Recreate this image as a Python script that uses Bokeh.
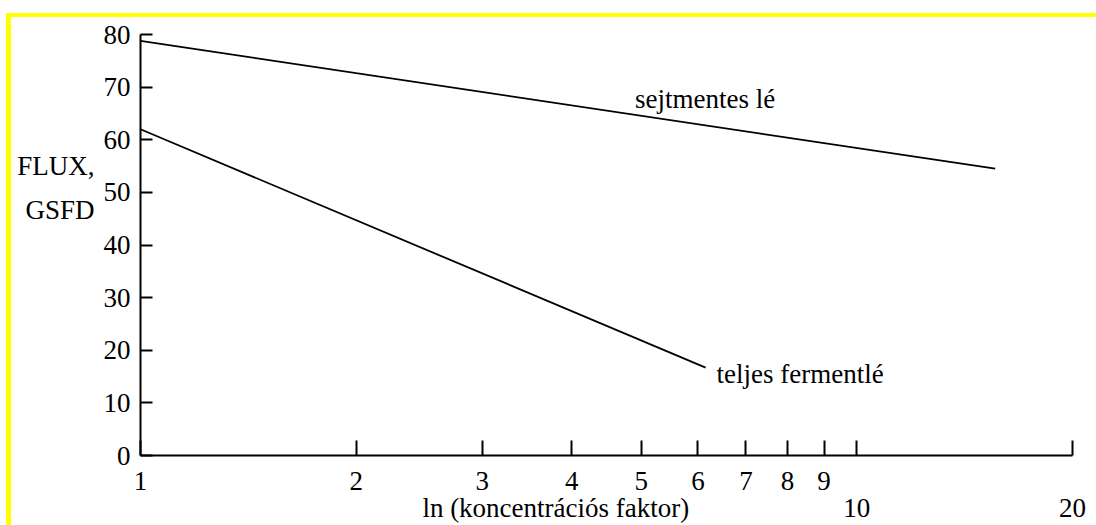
from bokeh.plotting import figure
from bokeh.models import FixedTicker, Label, LinearAxis, LogAxis
from bokeh.embed import file_html
from bokeh.resources import INLINE

# ---- data ----
x_ticks = [1, 2, 3, 4, 5, 6, 7, 8, 9, 10, 20]
x_tick_labels = ["1", "2", "3", "4", "5", "6", "7", "8", "9", "10", "20"]
y_ticks = [0, 10, 20, 30, 40, 50, 60, 70, 80]
y_tick_labels = ["0", "10", "20", "30", "40", "50", "60", "70", "80"]

sejtmentes_x = [1, 15.6]
sejtmentes_y = [78.8, 54.5]
teljes_x = [1, 6.15]
teljes_y = [62.0, 16.7]

series_names = ["sejtmentes lé", "teljes fermentlé"]
y_label_lines = ["FLUX,", "GSFD"]
y_label_pos = [55.0, 46.6]
x_label = "ln (koncentrációs faktor)"
x_label_pos = 3.8

FONT = "'Liberation Serif', 'Times New Roman', serif"
FS = "27px"

p = figure(width=1096, height=525, x_axis_type="log", x_range=(1, 20), y_range=(0, 80),
           output_backend="svg", toolbar_location=None,
           min_border_left=140, min_border_right=24, min_border_top=34, min_border_bottom=70)
p.border_fill_color = None
p.background_fill_color = "white"
p.outline_line_color = None
p.grid.visible = False
p.styles = {"box-shadow": "inset 0 13px 0 0 #ffffff, inset 6px 0 0 0 #ffffff, "
                          "inset 0 17px 0 0 #ffff00, inset 11px 0 0 0 #ffff00"}


def style_labels(ax):
    ax.major_label_text_font = FONT
    ax.major_label_text_font_size = FS
    ax.major_label_text_color = "black"
    ax.minor_tick_in = 0
    ax.minor_tick_out = 0


# main x axis: upper row of tick labels
xa = p.xaxis[0]
xa.ticker = FixedTicker(ticks=x_ticks, minor_ticks=[])
xa.major_label_overrides = {t: (l if t < 10 else "") for t, l in zip(x_ticks, x_tick_labels)}
xa.major_tick_in = 15
xa.major_tick_out = 0
xa.axis_line_width = 2
xa.major_tick_line_width = 2
xa.major_label_standoff = 16
style_labels(xa)

# second row: 10, 20 and the axis title
low_ticks = [t for t in x_ticks if t >= 10]
low_labels = [l for t, l in zip(x_ticks, x_tick_labels) if t >= 10]
xa2 = LogAxis(ticker=FixedTicker(ticks=[x_label_pos] + low_ticks, minor_ticks=[]))
xa2.major_label_overrides = dict(zip([x_label_pos] + low_ticks, [x_label] + low_labels))
xa2.axis_line_color = None
xa2.major_tick_line_color = None
xa2.major_tick_in = 0
xa2.major_tick_out = 0
xa2.major_label_standoff = 0
style_labels(xa2)
p.add_layout(xa2, "below")

# y axis
ya = p.yaxis[0]
ya.ticker = FixedTicker(ticks=y_ticks, minor_ticks=[])
ya.major_label_overrides = {t: l for t, l in zip(y_ticks, y_tick_labels)}
ya.major_tick_in = 12
ya.major_tick_out = 0
ya.axis_line_width = 2
ya.major_tick_line_width = 2
ya.major_label_standoff = 10
style_labels(ya)

# y title as a label-only axis
ya2 = LinearAxis(ticker=FixedTicker(ticks=y_label_pos, minor_ticks=[]))
ya2.major_label_overrides = dict(zip(y_label_pos, y_label_lines))
ya2.axis_line_color = None
ya2.major_tick_line_color = None
ya2.major_tick_in = 0
ya2.major_tick_out = 0
ya2.major_label_standoff = 6
style_labels(ya2)
p.add_layout(ya2, "left")

# lines
p.line(sejtmentes_x, sejtmentes_y, line_color="black", line_width=1.8)
p.line(teljes_x, teljes_y, line_color="black", line_width=1.8)

# series labels
p.add_layout(Label(x=4.9, y=67.8, text=series_names[0], text_align="left",
                   text_baseline="alphabetic", text_font=FONT, text_font_size=FS, text_color="black"))
p.add_layout(Label(x=teljes_x[-1], y=teljes_y[-1], x_offset=11, y_offset=-6, text=series_names[1],
                   text_align="left", text_baseline="alphabetic", text_font=FONT,
                   text_font_size=FS, text_color="black"))

open("out.html", "w").write(file_html(p, INLINE))
